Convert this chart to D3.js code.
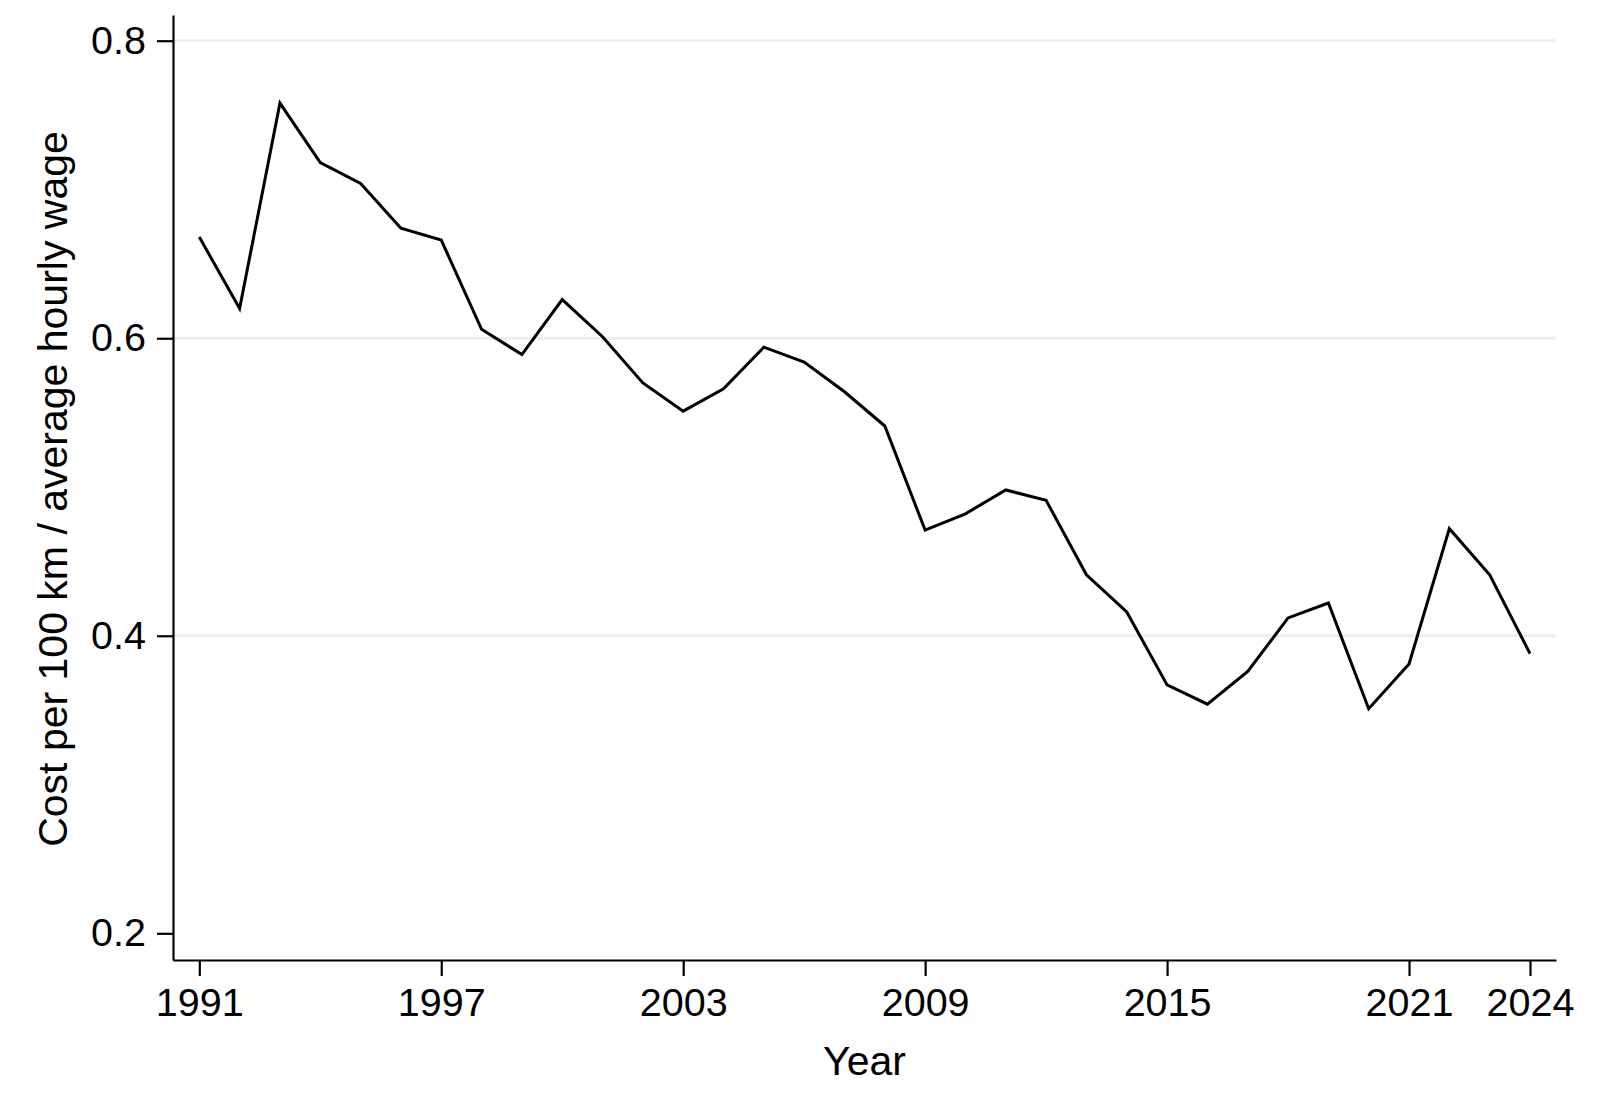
<!DOCTYPE html>
<html>
<head>
<meta charset="utf-8">
<script src="https://cdn.jsdelivr.net/npm/d3@7"></script>
<style>
  html, body { margin: 0; padding: 0; background: #ffffff; }
  svg { display: block; }
  text { font-family: "Liberation Sans", Arial, Helvetica, sans-serif; fill: #000; }
</style>
</head>
<body>
<svg id="chart" width="1606" height="1108"></svg>
<script>
const years = [1991,1992,1993,1994,1995,1996,1997,1998,1999,2000,2001,2002,2003,2004,2005,2006,2007,2008,2009,2010,2011,2012,2013,2014,2015,2016,2017,2018,2019,2020,2021,2022,2023,2024];
const costRatio = [0.668,0.620,0.758,0.718,0.704,0.674,0.666,0.606,0.589,0.626,0.601,0.570,0.551,0.566,0.594,0.584,0.564,0.541,0.471,0.482,0.498,0.491,0.441,0.416,0.367,0.354,0.376,0.412,0.422,0.351,0.381,0.472,0.441,0.388];
const xTicks = [1991,1997,2003,2009,2015,2021,2024];
const yTicks = [0.2,0.4,0.6,0.8];
const xTitle = "Year";
const yTitle = "Cost per 100 km / average hourly wage";

const svg = d3.select("#chart");
const plot = { left: 173, right: 1556, top: 15, bottom: 960 };

// base scales calibrated on tick positions, then extended to the plot frame
const xBase = d3.scaleLinear().domain([1991, 2024]).range([199.3, 1530]);
const yBase = d3.scaleLinear().domain([0.2, 0.8]).range([933.3, 40.7]);
const x = d3.scaleLinear().domain([xBase.invert(plot.left), xBase.invert(plot.right)]).range([plot.left, plot.right]);
const y = d3.scaleLinear().domain([yBase.invert(plot.bottom), yBase.invert(plot.top)]).range([plot.bottom, plot.top]);

// gridlines
svg.append("g").selectAll("line").data(yTicks.filter(d => d > 0.2)).join("line")
  .attr("x1", plot.left).attr("x2", plot.right)
  .attr("y1", d => y(d)).attr("y2", d => y(d))
  .attr("stroke", "#eeeeee").attr("stroke-width", 3);

// data line
const data = years.map((yr, i) => ({ yr, v: costRatio[i] }));
svg.append("path").datum(data)
  .attr("fill", "none").attr("stroke", "#000").attr("stroke-width", 3)
  .attr("stroke-linejoin", "miter")
  .attr("d", d3.line().x(d => x(d.yr)).y(d => y(d.v)));

// axes
const yAxis = d3.axisLeft(y).tickValues(yTicks).tickFormat(d3.format(".1f")).tickSize(16).tickPadding(11).tickSizeOuter(0);
const gy = svg.append("g").attr("transform", `translate(${plot.left},0)`).call(yAxis);
const xAxis = d3.axisBottom(x).tickValues(xTicks).tickFormat(d3.format("d")).tickSize(16).tickPadding(12).tickSizeOuter(0);
const gx = svg.append("g").attr("transform", `translate(0,${plot.bottom})`).call(xAxis);

[gx, gy].forEach(g => {
  g.select(".domain").attr("stroke", "#000").attr("stroke-width", 2.2);
  g.selectAll(".tick line").attr("stroke", "#000").attr("stroke-width", 2.2);
  g.selectAll(".tick text").attr("font-size", 39.5).attr("font-family", "'Liberation Sans', Arial, sans-serif").attr("fill", "#000");
});

// titles
svg.append("text").attr("x", (plot.left + plot.right) / 2).attr("y", 1075)
  .attr("text-anchor", "middle").attr("font-size", 41).text(xTitle);
svg.append("text").attr("transform", "translate(67,489) rotate(-90)")
  .attr("text-anchor", "middle").attr("font-size", 41).text(yTitle);
</script>
</body>
</html>
